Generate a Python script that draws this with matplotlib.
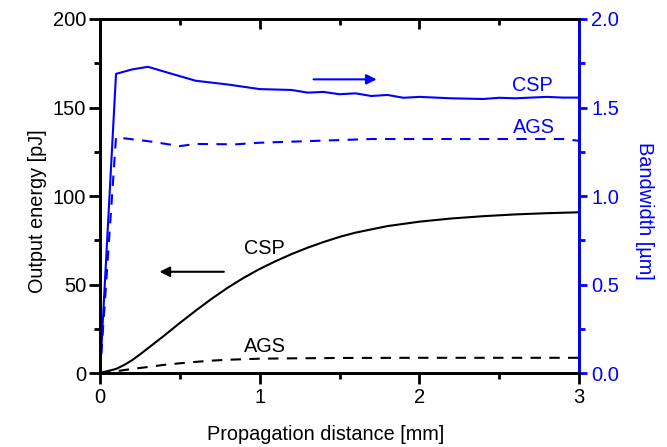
import matplotlib
matplotlib.use("Agg")
import matplotlib.pyplot as plt
from matplotlib.ticker import MultipleLocator, FormatStrFormatter

plt.rcParams['font.family'] = ['Liberation Sans', 'DejaVu Sans']

# Output energy [pJ]
x_energy = [0, 0.1, 0.15, 0.2, 0.25, 0.3, 0.4, 0.5, 0.6, 0.7, 0.8, 0.9, 1.0, 1.1, 1.2, 1.3, 1.4, 1.5, 1.6, 1.8, 2.0, 2.2, 2.4, 2.6, 2.8, 3.0]
csp_energy = [0, 2.3, 4.5, 7.2, 10.5, 14, 21, 28.3, 35.3, 42, 48.2, 53.8, 58.8, 63.2, 67.2, 70.8, 74, 76.9, 79.3, 83, 85.5, 87.3, 88.6, 89.6, 90.3, 90.8]
x_energy_ags = [0, 0.1, 0.2, 0.3, 0.4, 0.5, 0.6, 0.7, 0.8, 1.0, 1.2, 1.5, 2.0, 2.5, 3.0]
ags_energy = [0, 1.0, 2.3, 3.4, 4.6, 5.5, 6.3, 7.0, 7.5, 8.1, 8.3, 8.5, 8.6, 8.6, 8.6]

# Bandwidth [um]
x_bw_csp = [0, 0.1, 0.2, 0.3, 0.45, 0.6, 0.8, 1.0, 1.2, 1.3, 1.4, 1.5, 1.6, 1.7, 1.8, 1.9, 2.0, 2.2, 2.4, 2.5, 2.6, 2.8, 2.9, 3.0]
bw_csp = [0, 1.69, 1.715, 1.73, 1.69, 1.651, 1.63, 1.604, 1.599, 1.584, 1.588, 1.575, 1.58, 1.565, 1.571, 1.555, 1.56, 1.552, 1.548, 1.555, 1.552, 1.56, 1.556, 1.556]
x_bw_ags = [0, 0.1, 0.15, 0.3, 0.5, 0.6, 0.85, 1.0, 1.5, 1.7, 2.0, 2.5, 2.9, 3.0]
bw_ags = [0, 1.332, 1.326, 1.31, 1.282, 1.294, 1.292, 1.301, 1.316, 1.322, 1.322, 1.322, 1.322, 1.312]

blue = '#0000ff'
fs_tick = 14.5
fs_lab = 14.3

fig = plt.figure(figsize=(6.67, 4.47), dpi=100)
ax = fig.add_axes([0.150, 0.1655, 0.718, 0.792])
ax2 = ax.twinx()

ax.plot(x_energy, csp_energy, color='black', lw=1.5)
ax.plot(x_energy_ags, ags_energy, color='black', lw=1.5, ls=(0, (5, 4)))
ax2.plot(x_bw_csp, bw_csp, color=blue, lw=1.5)
ax2.plot(x_bw_ags, bw_ags, color=blue, lw=1.5, ls=(0, (5, 4)))

ax.set_xlim(0, 3)
ax.set_ylim(0, 200)
ax2.set_ylim(0, 2.0)

ax.xaxis.set_major_locator(MultipleLocator(1))
ax.xaxis.set_minor_locator(MultipleLocator(0.5))
ax.yaxis.set_major_locator(MultipleLocator(50))
ax.yaxis.set_minor_locator(MultipleLocator(25))
ax2.yaxis.set_major_locator(MultipleLocator(0.5))
ax2.yaxis.set_minor_locator(MultipleLocator(0.25))
ax2.yaxis.set_major_formatter(FormatStrFormatter('%.1f'))

for a in (ax, ax2):
    for s in a.spines.values():
        s.set_linewidth(2)
ax2.spines['right'].set_color(blue)

ax.tick_params(axis='x', which='both', direction='out', top=False, labelsize=fs_tick, width=2, pad=3)
ax.tick_params(axis='x', which='major', length=8)
ax.tick_params(axis='x', which='minor', length=4)
ax.tick_params(axis='y', which='both', direction='out', labelsize=fs_tick, width=2, pad=2)
ax.tick_params(axis='y', which='major', length=8)
ax.tick_params(axis='y', which='minor', length=4)
ax2.tick_params(axis='y', which='both', direction='out', labelsize=fs_tick, width=2, colors=blue, pad=3)
ax2.tick_params(axis='y', which='major', length=6)
ax2.tick_params(axis='y', which='minor', length=4)

# top ticks pointing inward
axt = ax.secondary_xaxis('top')
axt.xaxis.set_major_locator(MultipleLocator(1))
axt.xaxis.set_minor_locator(MultipleLocator(0.5))
axt.tick_params(axis='x', which='both', direction='in', labeltop=False, width=2)
axt.tick_params(axis='x', which='major', length=7)
axt.tick_params(axis='x', which='minor', length=4)
axt.spines['top'].set_linewidth(2)

ax.set_xlabel('Propagation distance [mm]', fontsize=fs_lab, labelpad=13)
ax.set_ylabel('Output energy [pJ]', fontsize=fs_lab, labelpad=4)
ax2.set_ylabel('Bandwidth [µm]', fontsize=fs_lab, color=blue, rotation=270, labelpad=25)
ax.xaxis.label.set_x(0.47)
ax.yaxis.label.set_y(0.458)
ax2.yaxis.label.set_y(0.458)

# annotations
ax.text(1.03, 70.4, 'CSP', fontsize=fs_lab, ha='center', va='center')
ax.text(1.03, 14.9, 'AGS', fontsize=fs_lab, ha='center', va='center')
ax2.text(2.71, 1.627, 'CSP', fontsize=fs_lab, ha='center', va='center', color=blue)
ax2.text(2.72, 1.388, 'AGS', fontsize=fs_lab, ha='center', va='center', color=blue)

ax.annotate('', xy=(0.355, 57.2), xytext=(0.793, 57.2),
            arrowprops=dict(arrowstyle='-|>', color='black', lw=1.5, mutation_scale=15))
ax2.annotate('', xy=(1.75, 1.659), xytext=(1.32, 1.659),
             arrowprops=dict(arrowstyle='-|>', color=blue, lw=1.5, mutation_scale=15))

fig.savefig('out.png', dpi=100)
